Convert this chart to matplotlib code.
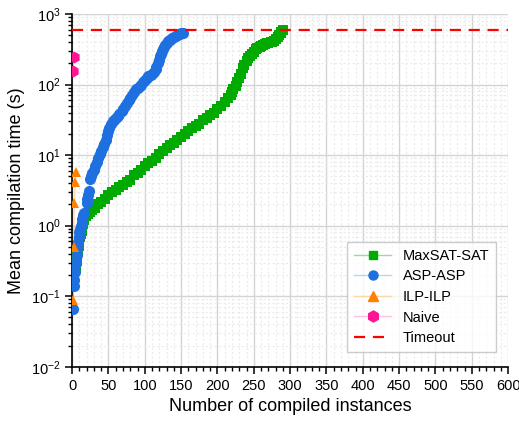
import numpy as np
import matplotlib
matplotlib.use('Agg')
import matplotlib.pyplot as plt
from matplotlib.lines import Line2D
from matplotlib.ticker import MultipleLocator, LogLocator

plt.rcParams['font.family'] = ['Liberation Sans', 'DejaVu Sans']
plt.rcParams['mathtext.fontset'] = 'custom'
plt.rcParams['mathtext.rm'] = 'Liberation Sans'

# Data (instance index, sorted mean time in s)
asp_x = [1, 2, 3, 4, 5, 6, 7, 8, 9, 10, 11, 12, 13, 14, 15, 16,
         20, 21, 22, 23,
         25, 26, 28, 30, 32, 34, 36, 38, 40, 42, 44, 46, 48, 50, 51, 53,
         56, 58, 60, 63, 65, 68, 70, 73, 75, 78, 80, 83, 85, 88, 90, 93,
         95, 98, 100, 103, 105, 108, 110, 113, 115, 116, 118, 119, 121,
         122, 124, 125, 127, 128, 130, 132, 134, 136, 138, 140, 143, 145,
         148, 150, 153]
asp_y = [0.065, 0.14, 0.17, 0.22, 0.3, 0.38, 0.48, 0.58, 0.68, 0.8, 0.9,
         1.0, 1.1, 1.25, 1.4, 1.5,
         2.1, 2.4, 2.7, 3.1,
         4.6, 5.0, 5.5, 6.2, 7, 8, 9, 10.2, 11.5, 13, 14.5, 16.5, 19, 22,
         24, 28, 30, 31.5, 33, 36, 38, 42, 45, 50, 55, 61, 65, 72, 78, 85,
         90, 96, 100, 108, 115, 123, 130, 137, 142, 150, 165, 175, 200, 220,
         250, 270, 300, 320, 345, 360, 385, 410, 425, 440, 455, 470, 490,
         500, 518, 530, 545]

maxsat_x = [2, 3, 4, 5, 6, 7, 8, 9, 10, 11, 12, 13, 14, 15, 17, 19, 22, 25,
            28, 32, 36, 40, 45, 50, 55, 60, 65, 70, 75, 80, 85, 90, 95, 100,
            105, 110, 115, 120, 125, 130, 135, 140, 145, 150, 155, 160, 165,
            170, 175, 180, 185, 190, 195, 200, 205, 210, 215, 218, 220, 222,
            225, 227, 230, 232, 235, 237, 240, 242, 245, 248, 250, 253, 255,
            258, 260, 263, 265, 268, 270, 273, 275, 278, 280, 283, 285, 287,
            288, 290]
maxsat_y = [0.18, 0.2, 0.23, 0.27, 0.32, 0.38, 0.45, 0.52, 0.6, 0.68, 0.76,
            0.85, 0.95, 1.05, 1.2, 1.35, 1.45, 1.55, 1.65, 1.8, 2.0, 2.15,
            2.4, 2.7, 2.95, 3.2, 3.5, 3.8, 4.1, 4.5, 5.3, 5.6, 6.1, 6.9, 7.6,
            8.3, 9.2, 10.3, 11.3, 12.5, 13.8, 15, 16.5, 18, 20, 22, 24, 26,
            28, 31, 34, 37, 40, 45, 50, 57, 65, 72, 78, 85, 95, 108, 125, 140,
            170, 190, 215, 235, 255, 275, 290, 315, 330, 345, 355, 365, 375,
            383, 390, 398, 405, 420, 440, 470, 500, 540, 560, 590]

ilp_x = [1, 2, 3, 4, 5]
ilp_y = [0.087, 0.5, 2.1, 4.2, 5.8]

naive_x = [1, 2]
naive_y = [157, 245]

timeout = 600

c_green = '#00aa00'
c_blue = '#1e6fe0'
c_orange = '#ff8000'
c_pink = '#ff1493'

fig = plt.figure(figsize=(5.19, 4.23), dpi=100)
ax = fig.add_axes([0.139, 0.133, 0.840, 0.834])

ax.plot(maxsat_x, maxsat_y, '-', color=c_green, alpha=0.3, lw=1, zorder=2)
ax.plot(maxsat_x, maxsat_y, 's', color=c_green, ms=7.5, mew=0, zorder=3)
ax.plot(asp_x, asp_y, '-', color=c_blue, alpha=0.3, lw=1, zorder=2)
ax.plot(asp_x, asp_y, 'o', color=c_blue, ms=8, mew=0, zorder=4)
ax.plot(ilp_x, ilp_y, '-', color=c_orange, alpha=0.3, lw=1, zorder=2)
ax.plot(ilp_x, ilp_y, '^', color=c_orange, ms=7, mew=0, zorder=5)
ax.plot(naive_x, naive_y, '-', color=c_pink, alpha=0.3, lw=1, zorder=2)
ax.plot(naive_x, naive_y, 'h', color=c_pink, ms=8.5, mew=0, zorder=5)
ax.axhline(timeout, color='#ff0000', ls=(0, (5, 3.5)), lw=1.6, zorder=6)

ax.set_yscale('log')
ax.set_xlim(0, 600)
ax.set_ylim(1e-2, 1e3)
ax.xaxis.set_major_locator(MultipleLocator(50))
ax.xaxis.set_minor_locator(MultipleLocator(10))
ax.yaxis.set_major_locator(LogLocator(base=10))
ax.yaxis.set_minor_locator(LogLocator(base=10, subs=np.arange(2, 10)))

ax.grid(which='major', color='#d4d4d4', lw=1, ls='-', zorder=0)
ax.grid(which='minor', color='#ebebeb', lw=0.8, ls=(0, (2, 2)), zorder=0)
ax.set_axisbelow(True)

for s in ['top', 'right']:
    ax.spines[s].set_visible(False)
ax.spines['left'].set_linewidth(1.2)
ax.spines['bottom'].set_linewidth(1.2)
ax.tick_params(which='major', direction='out', length=5, width=1.1, labelsize=10.5)
ax.tick_params(which='minor', direction='out', length=3, width=1)

ax.set_xlabel('Number of compiled instances', fontsize=13)
ax.set_ylabel('Mean compilation time (s)', fontsize=13)

handles = [
    Line2D([], [], color='#99dd99', lw=1, marker='s', ms=6, mfc=c_green, mec=c_green),
    Line2D([], [], color='#bcd4f6', lw=1, marker='o', ms=6.5, mfc=c_blue, mec=c_blue),
    Line2D([], [], color='#ffd6a8', lw=1, marker='^', ms=6.5, mfc=c_orange, mec=c_orange),
    Line2D([], [], color='#ffc4e4', lw=1, marker='h', ms=8, mfc=c_pink, mec=c_pink),
    Line2D([], [], color='#ff0000', lw=1.6, ls=(0, (5, 3.5))),
]
labels = ['MaxSAT-SAT', 'ASP-ASP', 'ILP-ILP', 'Naive', 'Timeout']
leg = ax.legend(handles, labels, loc='lower right', bbox_to_anchor=(0.99, 0.02),
                fontsize=10.5, fancybox=False, edgecolor='#c0c0c0',
                handlelength=2.5, labelspacing=0.45, borderpad=0.5)
leg.get_frame().set_linewidth(1)

fig.savefig('out.png', dpi=100)
